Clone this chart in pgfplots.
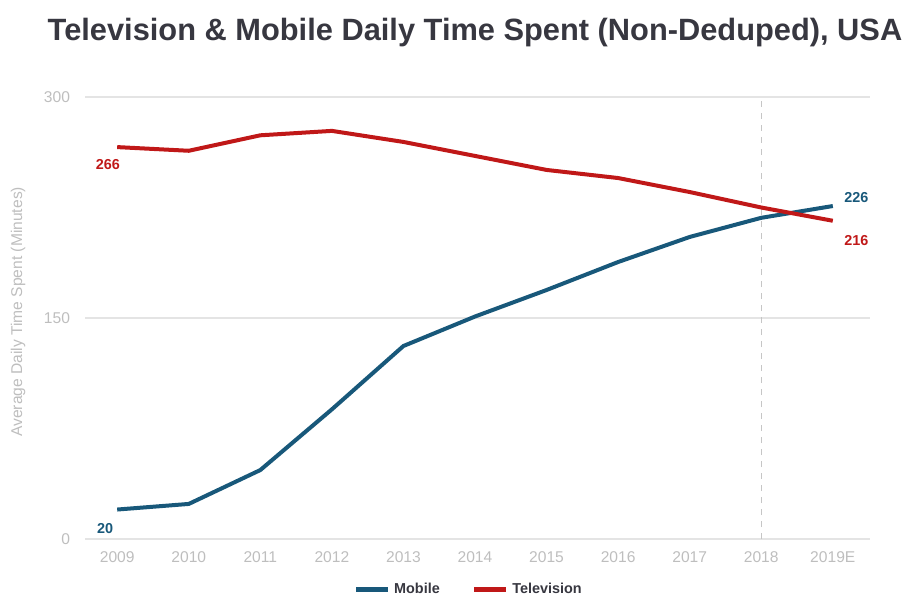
\documentclass[border=0pt]{standalone}
\usepackage{fontspec}
\setmainfont{Liberation Sans}
\usepackage{pgfplots}
\pgfplotsset{compat=1.18}
\definecolor{mob}{RGB}{24,88,122}
\definecolor{tv}{RGB}{192,24,24}
\definecolor{titlec}{RGB}{55,55,64}
\definecolor{tickc}{RGB}{190,190,190}
\definecolor{gridc}{RGB}{228,228,228}
\begin{document}
\begin{tikzpicture}
\useasboundingbox (-42.5pt,-30.5pt) rectangle (414.5pt,269.5pt);
\begin{axis}[
  at={(0,0)}, anchor=south west,
  scale only axis, width=392.5pt, height=221pt,
  xmin=-0.45, xmax=10.52, ymin=0, ymax=300,
  axis line style={draw=none},
  tick style={draw=none},
  xtick={0,...,10},
  xticklabels={2009,2010,2011,2012,2013,2014,2015,2016,2017,2018,2019E},
  ytick={0,150,300},
  ymajorgrids, grid style={gridc, line width=0.6pt},
  /pgf/number format/assume math mode=true,
  ticklabel style={font=\fontsize{7.8pt}{9pt}\selectfont, text=tickc},
  xticklabel style={yshift=-3pt},
  yticklabel style={xshift=-4pt},
  ylabel={Average Daily Time Spent (Minutes)},
  ylabel style={font=\fontsize{7.8pt}{9pt}\selectfont, text=tickc, at={(rel axis cs:0,0.514)}, anchor=center, rotate=0, yshift=33.5pt},
  legend style={at={(0.49,-0.115)}, anchor=center, draw=none, fill=none,
    legend columns=2, font=\bfseries\fontsize{7.2pt}{8pt}\selectfont, text=titlec,
    /tikz/every even column/.append style={column sep=14pt}},
  legend image code/.code={\draw[#1, line width=2.6pt] (0cm,0cm) -- (0.55cm,0cm);},
  clip=false,
]
\draw[gridc!70!gray, dashed, line width=0.5pt] (axis cs:9,0) -- (axis cs:9,300);
\addplot[mob, line width=2pt] coordinates {
(0,20)(1,23.8)(2,46.8)(3,88)(4,131)(5,151)(6,169)(7,188)(8,205)(9,218)(10,226)};
\addlegendentry{Mobile}
\addplot[tv, line width=2pt] coordinates {
(0,266)(1,263.5)(2,274)(3,277)(4,269.5)(5,260)(6,250.5)(7,245)(8,235.5)(9,225)(10,216)};
\addlegendentry{Television}
\node[font=\bfseries\fontsize{7.2pt}{8pt}\selectfont, text=mob] at (axis cs:-0.17,7) {20};
\node[font=\bfseries\fontsize{7.2pt}{8pt}\selectfont, text=mob] at (axis cs:10.33,232) {226};
\node[font=\bfseries\fontsize{7.2pt}{8pt}\selectfont, text=tv] at (axis cs:-0.13,254) {266};
\node[font=\bfseries\fontsize{7.2pt}{8pt}\selectfont, text=tv] at (axis cs:10.33,202.5) {216};
\end{axis}
\node[font=\bfseries\fontsize{15.4pt}{17pt}\selectfont, text=titlec] at (195pt,253pt) {Television \& Mobile Daily Time Spent (Non-Deduped), USA};
\end{tikzpicture}
\end{document}
